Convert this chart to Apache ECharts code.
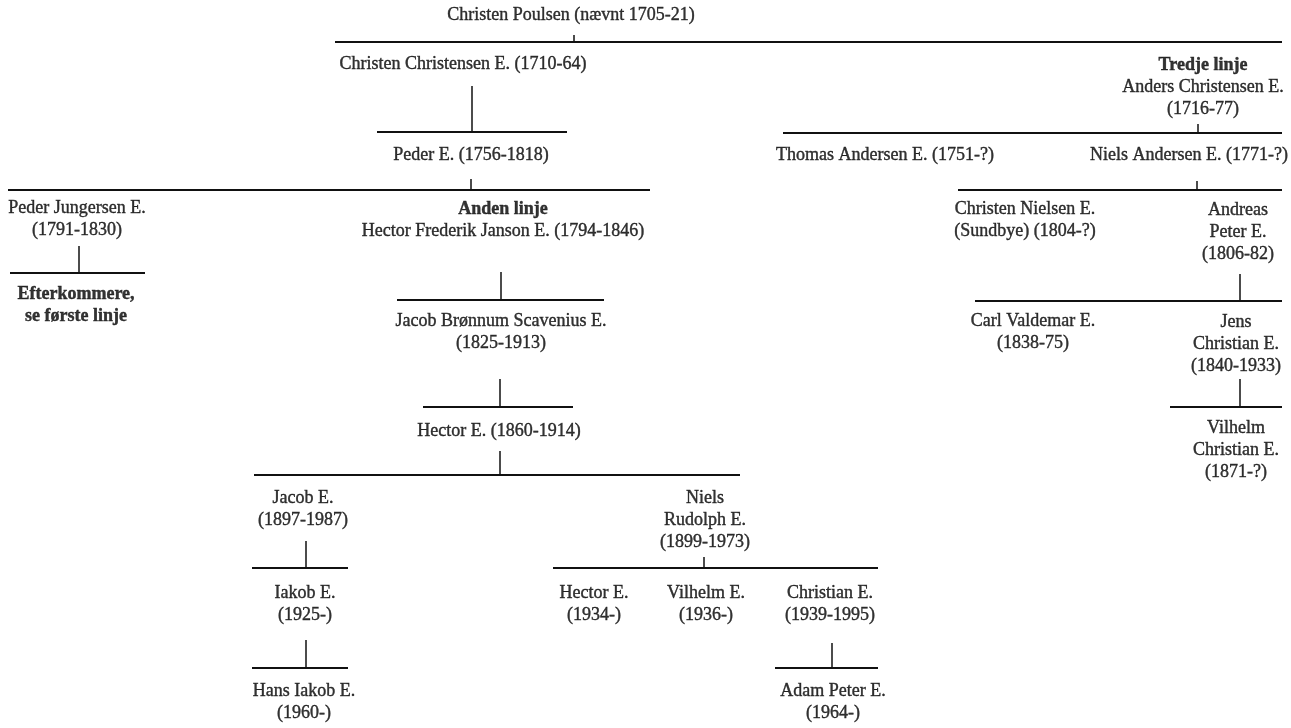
<!DOCTYPE html>
<html>
<head>
<meta charset="utf-8">
<title>Slægtstavle</title>
<script src="https://cdn.jsdelivr.net/npm/echarts@6/dist/echarts.min.js"></script>
<style>
  html, body { margin: 0; padding: 0; background: #fff; }
  #chart { width: 1291px; height: 728px; }
</style>
</head>
<body>
<div id="chart"></div>
<script>
// personer: tekst (linjer adskilt af \n, {b|..} = fed), placering i diagrammets enheder
var names = [
  'Christen Poulsen (nævnt 1705-21)',
  'Christen Christensen E. (1710-64)',
  '{b|Tredje linje}\nAnders Christensen E.\n(1716-77)',
  'Peder E. (1756-1818)',
  'Thomas Andersen E. (1751-?)',
  'Niels Andersen E. (1771-?)',
  'Peder Jungersen E.\n(1791-1830)',
  '{b|Anden linje}\nHector Frederik Janson E. (1794-1846)',
  '{b|Efterkommere,}\n{b|se første linje}',
  'Christen Nielsen E.\n(Sundbye) (1804-?)',
  'Andreas\nPeter E.\n(1806-82)',
  'Jacob Brønnum Scavenius E.\n(1825-1913)',
  'Carl Valdemar E.\n(1838-75)',
  'Jens\nChristian E.\n(1840-1933)',
  'Hector E. (1860-1914)',
  'Vilhelm\nChristian E.\n(1871-?)',
  'Jacob E.\n(1897-1987)',
  'Niels\nRudolph E.\n(1899-1973)',
  'Iakob E.\n(1925-)',
  'Hector E.\n(1934-)',
  'Vilhelm E.\n(1936-)',
  'Christian E.\n(1939-1995)',
  'Hans Iakob E.\n(1960-)',
  'Adam Peter E.\n(1964-)'
];
var nameX = [571, 463, 1203, 471, 885, 1189, 77, 503, 76, 1025, 1238, 501, 1033, 1236, 499, 1236, 303, 705, 305, 594, 706, 830, 304, 833];
var nameY = [15, 64, 87, 155, 155, 155, 219, 220, 305, 220, 232, 332, 332, 344, 431, 450, 509, 520, 604, 604, 604, 604, 702, 702];

// søskendestreger: [y, fra x, til x]
var bars = [
  [42, 335, 1282],
  [132, 377, 567],
  [133, 783, 1282],
  [190, 8, 650],
  [190, 958, 1282],
  [273, 10, 145],
  [300, 397, 604],
  [301, 975, 1282],
  [407, 423, 573],
  [407, 1170, 1282],
  [475, 254, 740],
  [568, 252, 348],
  [568, 553, 878],
  [668, 252, 348],
  [668, 775, 878]
];
// lodrette streger: [x, fra y, til y]
var stems = [
  [574, 35, 42],
  [472, 86, 132],
  [1198, 124, 133],
  [471, 179, 190],
  [1197, 181, 190],
  [79, 246, 273],
  [501, 272, 300],
  [1240, 274, 301],
  [500, 379, 407],
  [1240, 379, 407],
  [500, 451, 475],
  [306, 541, 568],
  [704, 557, 568],
  [306, 640, 668],
  [832, 643, 668]
];

var myChart = echarts.init(document.getElementById('chart'));
var ink = '#000';

var option = {
  backgroundColor: '#fff',
  animation: false,
  grid: { left: 0, right: 0, top: 0, bottom: 0 },
  xAxis: { type: 'value', min: 0, max: 1291, show: false },
  yAxis: { type: 'value', min: 0, max: 728, inverse: true, show: false },
  series: [
    {
      type: 'lines',
      coordinateSystem: 'cartesian2d',
      silent: true,
      lineStyle: { color: '#111', width: 2, opacity: 1 },
      data: bars.map(function (b) {
        return { coords: [[b[1], b[0]], [b[2], b[0]]] };
      })
    },
    {
      type: 'lines',
      coordinateSystem: 'cartesian2d',
      silent: true,
      lineStyle: { color: '#111', width: 1.5, opacity: 1 },
      data: stems.map(function (s) {
        return { coords: [[s[0], s[1]], [s[0], s[2]]] };
      })
    },
    {
      type: 'scatter',
      silent: true,
      symbolSize: 0,
      itemStyle: { color: ink },
      data: names.map(function (n, i) {
        return { name: n, value: [nameX[i], nameY[i]] };
      }),
      label: {
        show: true,
        position: 'inside',
        formatter: function (p) { return p.name; },
        color: ink,
        textBorderColor: ink,
        textBorderWidth: 0.4,
        fontFamily: 'Liberation Serif',
        fontSize: 18,
        lineHeight: 22,
        align: 'center',
        verticalAlign: 'middle',
        rich: {
          b: {
            fontWeight: 'bold', fontFamily: 'Liberation Serif', fontSize: 18, lineHeight: 22,
            color: ink, textBorderColor: ink, textBorderWidth: 0.4
          }
        }
      },
      labelLayout: { hideOverlap: false }
    }
  ]
};
myChart.setOption(option);
</script>
</body>
</html>
